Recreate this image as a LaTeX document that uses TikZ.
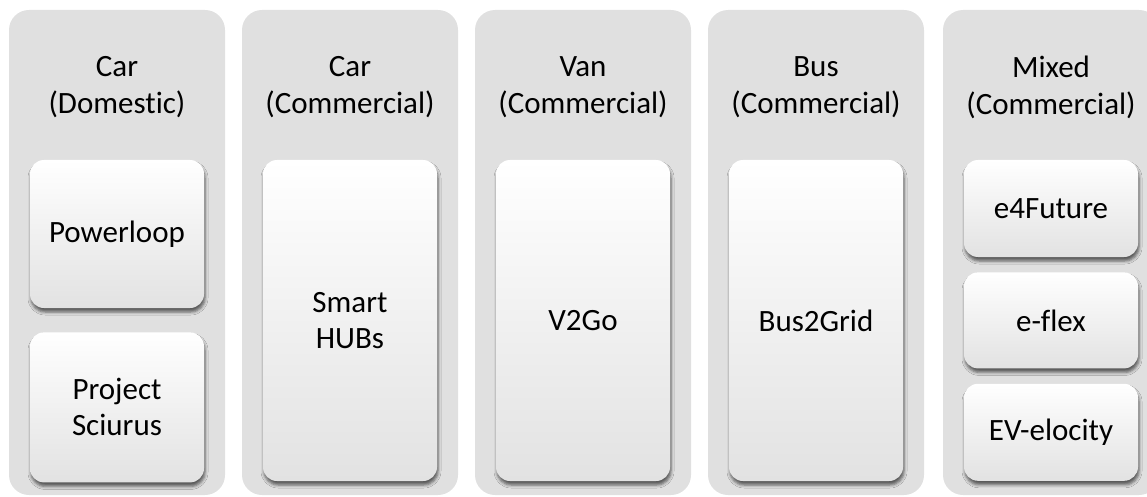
\documentclass[tikz,border=0pt]{standalone}
\usepackage{fontspec}
\setmainfont{Carlito}[Ligatures={NoCommon}]
\usetikzlibrary{positioning,shadows.blur}

\definecolor{lanegray}{RGB}{224,224,224}
\definecolor{boxgray}{RGB}{226,226,226}

\begin{document}
\begin{tikzpicture}[x=1pt,y=-1pt,node distance=24pt,
    lane/.style={rectangle, rounded corners=20pt, fill=lanegray,
        minimum width=216pt, minimum height=485pt, inner sep=0pt},
    title/.style={align=center, font=\fontsize{31}{37}\selectfont},
    project/.style={rectangle, rounded corners=14pt, inner sep=0pt,
        top color=white, middle color=white, bottom color=boxgray,
        minimum width=174pt, align=center,
        font=\fontsize{31}{36}\selectfont,
        blur shadow={shadow xshift=1pt, shadow yshift=-4pt,
            shadow blur radius=3pt, shadow opacity=60}}]
    \useasboundingbox (0,0) rectangle (1147,497);
    \clip (0,0) rectangle (1147,497);

    % lanes
    \node[lane] (car) at (117,252.5) {};
    \node[lane] (carcom) at (350,252.5) {};
    \node[lane] (van) at (583,252.5) {};
    \node[lane] (bus) at (816,252.5) {};
    \node[lane] (mixed) at (1051,252.5) {};

    % lane titles
    \node[title] (t1) at (117,87) {Car\\(Domestic)};
    \node[title] (t2) at (350,87) {Car\\(Commercial)};
    \node[title] (t3) at (583,87) {Van\\(Commercial)};
    \node[title] (t4) at (816,87) {Bus\\(Commercial)};
    \node[title] (t5) at (1051,87) {Mixed\\(Commercial)};

    % projects
    \node[project, minimum height=148pt] (p1) at (117,234) {Powerloop};
    \node[project, minimum height=150pt] (p2) [below=of p1] {Project\\Sciurus};
    \node[project, minimum height=321pt] (p3) at (350,320.5) {Smart\\HUBs};
    \node[project, minimum height=321pt] (p4) at (583,320.5) {V2Go};
    \node[project, minimum height=321pt] (p5) at (816,320.5) {Bus2Grid};
    \node[project, minimum height=97pt] (p6) at (1051,208.5) {e4Future};
    \node[project, minimum height=96pt] (p7) [below=15pt of p6] {e-flex};
    \node[project, minimum height=97pt] (p8) [below=15pt of p7] {EV-elocity};
\end{tikzpicture}
\end{document}
